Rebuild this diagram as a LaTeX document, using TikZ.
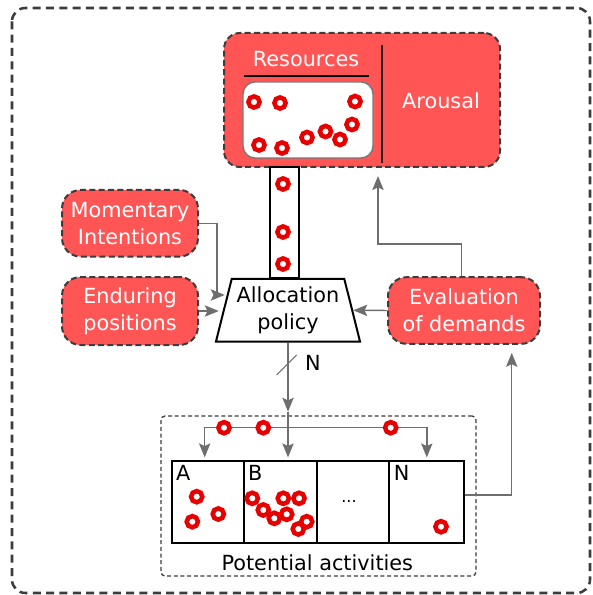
\documentclass[tikz,border=0pt]{standalone}
\usepackage{fontspec}
\setmainfont{DejaVu Sans}
\usetikzlibrary{shapes.geometric,arrows.meta}
\definecolor{boxred}{RGB}{255,85,85}
\definecolor{ringred}{RGB}{230,0,0}
\definecolor{edge}{RGB}{60,60,60}
\definecolor{wire}{RGB}{110,110,110}
\definecolor{poolgray}{RGB}{120,120,120}

\begin{document}
\begin{tikzpicture}[x=0.75pt,y=-0.75pt,
  font=\fontsize{15.6}{20}\selectfont,
  redbox/.style={draw=edge, line width=1.5pt, dash pattern=on 4.5pt off 2.5pt,
    fill=boxred, rounded corners=14pt, text=white, align=center, inner sep=0pt},
  ring/.style={circle, draw=ringred, fill=white, line width=3.4pt,
    minimum size=8.4pt, inner sep=0pt},
  wirearrow/.style={draw=wire, line width=1.1pt,
    -{Stealth[length=10.5pt,width=8.5pt,inset=2pt]}},
  actbox/.style={draw=black, line width=1.3pt, minimum height=61.3pt, inner sep=0pt},
  tag/.style={inner sep=0pt}
]
\useasboundingbox (0,0) rectangle (592,595);

% outer frame
\draw[edge, line width=1.9pt, dash pattern=on 6pt off 4pt, rounded corners=10pt]
  (12,8) rectangle (590,593);

% resources / arousal block
\node[redbox, rounded corners=12pt, minimum width=207pt, minimum height=100.5pt] (top) at (362,100) {};
\node[draw=poolgray, line width=1.1pt, fill=white, rounded corners=9pt,
  minimum width=97.5pt, minimum height=57pt, inner sep=0pt] (pool) at (308,120) {};
\node[tag, text=white] (restitle) at (306,59) {Resources};
\draw[black, line width=0.8pt] (244,76) -- (369,76);
\draw[black!85, line width=0.9pt] (382,45) -- (382,163);
\node[tag, text=white] (arousal) at (441,101) {Arousal};

\foreach \p [count=\i] in {(254,102),(280,103),(355,101.5),(259,145),(282,148),
  (307,137.5),(325.5,131.5),(340,139.5),(352,124.5)}
  \node[ring] (pr\i) at \p {};

% channel to the allocation policy
\node[draw=black, fill=white, line width=1.1pt, minimum width=21.75pt,
  minimum height=83.25pt, inner sep=0pt] (pipe) at (284.5,222.5) {};
\node[ring] (c1) at (283,184) {};
\node[ring] (c2) at (283,232) {};
\node[ring] (c3) at (283,264) {};

% allocation policy
\node[trapezium, draw=black, line width=1.5pt, fill=white, trapezium stretches=true,
  trapezium left angle=73, trapezium right angle=73, minimum width=108.75pt,
  minimum height=47pt, align=center, inner sep=0pt] (alloc) at (288,310.3)
  {Allocation\\policy};

% inputs
\node[redbox, minimum width=102pt, minimum height=50pt] (mom) at (130,223.3) {Momentary\\Intentions};
\node[redbox, minimum width=102pt, minimum height=51pt] (end) at (130,311) {Enduring\\positions};
\node[redbox, minimum width=114pt, minimum height=50pt] (eval) at (464,310.5) {Evaluation\\of demands};

\draw[wirearrow] (mom.east) -- ++(18,0) |- ([xshift=1.5pt,yshift=11.5pt]alloc.west);
\draw[wirearrow, shorten >=3pt] (end.east) -- (end.east -| alloc.west);
\draw[wirearrow] (eval.west) -- (alloc.east);
\draw[wirearrow, shorten >=6pt] ([xshift=-2pt]eval.north) -- ++(0,-32) -| ([xshift=12pt]top.south);

% potential activities
\node[draw=edge, line width=1pt, dash pattern=on 3pt off 2pt, rounded corners=3pt,
  minimum width=236.25pt, minimum height=120pt, inner sep=0pt] (pot) at (318.5,496) {};
\node[tag] (pottext) at (317.3,562.7) {Potential activities};

\node[actbox, minimum width=54.45pt] (abox) at (208,501.8) {};
\node[actbox, minimum width=54.3pt] (bbox) at (280.5,501.8) {};
\node[actbox, minimum width=54.45pt] (dbox) at (353,501.8) {};
\node[actbox, minimum width=56.25pt] (nbox) at (426.8,501.8) {};
\node[tag] (alab) at (183.3,473.3) {A};
\node[tag] (blab) at (255.3,473.3) {B};
\node[tag] (nlab) at (401.7,473.3) {N};
\node[tag, font=\fontsize{12}{14}\selectfont] (dots) at ([xshift=-3pt]dbox.center) {...};

% distribution to the activities
\coordinate (split) at (alloc.south |- 0,427.7);
\draw[wirearrow] (alloc.south) -- ([yshift=12pt]split);
\draw[wire, line width=0.8pt] (276.7,375) -- (296.7,355);
\node[tag] (nn) at (313,362.7) {N};
\draw[wirearrow, shorten >=2pt] ([yshift=12pt]split) -- (split |- bbox.north);
\draw[wirearrow, shorten >=2pt] (split) -| ([xshift=-2.5pt]abox.north);
\draw[wirearrow, shorten >=2pt] (split) -| (nbox.north);
\node[ring] (l1) at (224,427.7) {};
\node[ring] (l2) at (263.3,427.7) {};
\node[ring] (l3) at (390.7,427.7) {};

\draw[wirearrow, shorten >=6pt] ([yshift=5pt]nbox.east) -| ([xshift=35.8pt]eval.south);

% units held by each activity
\node[ring] (a1) at (196.7,496.7) {};
\node[ring] (a2) at (192.3,521.7) {};
\node[ring] (a3) at (218.3,514) {};
\foreach \p [count=\i] in {(252.3,498.3),(263.3,510),(274.3,518.3),(283.3,498.3),
  (299,498.3),(286.7,514.3),(298.3,529),(306.7,521.7)}
  \node[ring] (b\i) at \p {};
\node[ring] (n1) at (441,526.7) {};
\end{tikzpicture}
\end{document}
